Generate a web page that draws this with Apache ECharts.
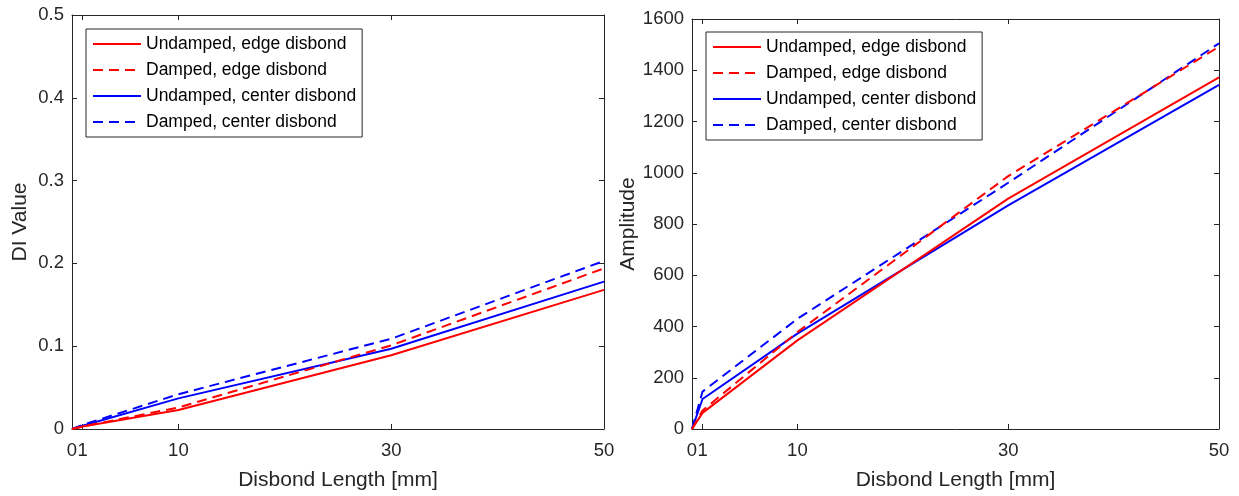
<!DOCTYPE html>
<html>
<head>
<meta charset="utf-8">
<script src="https://cdn.jsdelivr.net/npm/echarts@6/dist/echarts.min.js"></script>
<style>html,body{margin:0;padding:0;background:#fff}#c{width:1239px;height:496px}</style>
</head>
<body>
<div id="c"></div>
<script>
// Data
const disbondLength = [0, 1, 10, 30, 50];
const xTicks = [0, 1, 10, 30, 50];
const seriesNames = ['Undamped, edge disbond', 'Damped, edge disbond', 'Undamped, center disbond', 'Damped, center disbond'];
const diUndampedEdge   = [0, 0.003, 0.023, 0.089, 0.168];
const diDampedEdge     = [0, 0.003, 0.026, 0.101, 0.194];
const diUndampedCenter = [0, 0.004, 0.037, 0.097, 0.178];
const diDampedCenter   = [0, 0.005, 0.042, 0.109, 0.203];
const ampUndampedEdge   = [0, 63, 346, 899, 1372];
const ampDampedEdge     = [0, 72, 378, 987, 1492];
const ampUndampedCenter = [0, 117, 372, 873, 1343];
const ampDampedCenter   = [0, 146, 430, 961, 1505];

const FONT = 'Liberation Sans';
const AX = '#262626';
const colors = ['#ff0000', '#ff0000', '#0000ff', '#0000ff'];
const types = ['solid', [10, 6], 'solid', [10, 6]];

function pairs(ys) { return disbondLength.map((x, i) => [x, ys[i]]); }

function xAxes(gridIndex) {
  return [
    {
      type: 'value', gridIndex, position: 'bottom', min: 0, max: 50,
      name: 'Disbond Length [mm]', nameLocation: 'middle', nameGap: 41,
      nameTextStyle: { fontFamily: FONT, fontSize: 21, color: AX },
      axisLine: { lineStyle: { color: AX, width: 1 } },
      axisTick: { inside: true, length: 5, customValues: xTicks, lineStyle: { color: AX } },
      axisLabel: { customValues: xTicks, fontFamily: FONT, fontSize: 18.5, color: AX, margin: 12 },
      splitLine: { show: false }
    },
    {
      type: 'value', gridIndex, position: 'top', min: 0, max: 50,
      axisLine: { onZero: false, lineStyle: { color: AX, width: 1 } },
      axisTick: { inside: true, length: 5, customValues: xTicks, lineStyle: { color: AX } },
      axisLabel: { show: false },
      splitLine: { show: false }
    }
  ];
}
function yAxes(gridIndex, max, interval, name, nameGap) {
  return [
    {
      type: 'value', gridIndex, position: 'left', min: 0, max, interval,
      name, nameLocation: 'middle', nameGap,
      nameTextStyle: { fontFamily: FONT, fontSize: 21, color: AX },
      axisLine: { show: true, onZero: false, lineStyle: { color: AX, width: 1 } },
      axisTick: { show: true, inside: true, length: 5, lineStyle: { color: AX } },
      axisLabel: { fontFamily: FONT, fontSize: 18.5, color: AX, margin: 8, formatter: v => String(+v.toFixed(6)) },
      splitLine: { show: false }
    },
    {
      type: 'value', gridIndex, position: 'right', min: 0, max, interval,
      axisLine: { show: true, onZero: false, lineStyle: { color: AX, width: 1 } },
      axisTick: { show: true, inside: true, length: 5, lineStyle: { color: AX } },
      axisLabel: { show: false },
      splitLine: { show: false }
    }
  ];
}

const leftData = [diUndampedEdge, diDampedEdge, diUndampedCenter, diDampedCenter];
const rightData = [ampUndampedEdge, ampDampedEdge, ampUndampedCenter, ampDampedCenter];
const series = [];
leftData.forEach((d, i) => series.push({
  type: 'line', name: seriesNames[i], xAxisIndex: 0, yAxisIndex: 0, data: pairs(d),
  showSymbol: false, symbol: 'none', lineStyle: { color: colors[i], width: 2, type: types[i] },
  itemStyle: { color: colors[i] }, z: 10 - i, animation: false
}));
rightData.forEach((d, i) => series.push({
  type: 'line', name: seriesNames[i], xAxisIndex: 2, yAxisIndex: 2, data: pairs(d),
  showSymbol: false, symbol: 'none', lineStyle: { color: colors[i], width: 2, type: types[i] },
  itemStyle: { color: colors[i] }, z: 10 - i, animation: false
}));

function legend(left, top) {
  return {
    orient: 'vertical', left, top, data: seriesNames,
    itemWidth: 48, itemHeight: 14, itemGap: 8,
    padding: [6, 6, 6, 6],
    borderColor: AX, borderWidth: 1, backgroundColor: '#fff',
    itemStyle: { opacity: 0 },
    textStyle: { fontFamily: FONT, fontSize: 17.5, lineHeight: 16, color: '#000' },
    selectedMode: false
  };
}

const chart = echarts.init(document.getElementById('c'), null, { renderer: 'canvas' });
chart.setOption({
  animation: false,
  backgroundColor: '#fff',
  grid: [
    { left: 72, top: 15, width: 532, height: 415 },
    { left: 692, top: 19, width: 527, height: 411 }
  ],
  xAxis: [...xAxes(0), ...xAxes(1)],
  yAxis: [...yAxes(0, 0.5, 0.1, 'DI Value', 41), ...yAxes(1, 1600, 200, 'Amplitude', 52)],
  legend: [legend(86, 29), legend(706, 32)],
  series
});
</script>
</body>
</html>
